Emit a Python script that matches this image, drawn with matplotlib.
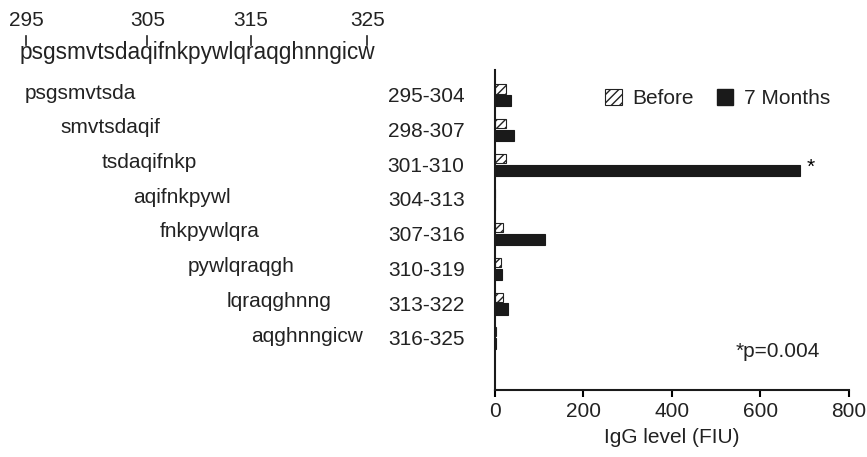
import numpy as np
import matplotlib.pyplot as plt
import matplotlib.transforms as mtransforms
from matplotlib.patches import Patch
from matplotlib.font_manager import FontProperties

plt.rcParams['font.family'] = ['Liberation Sans', 'DejaVu Sans']
plt.rcParams['hatch.linewidth'] = 1.0

# full sequence and its numbering
sequence = 'psgsmvtsdaqifnkpywlqraqghnngicw'
seq_start = 295
seq_marks = [295, 305, 315, 325]

# peptides (top to bottom)
peptides = ['psgsmvtsda', 'smvtsdaqif', 'tsdaqifnkp', 'aqifnkpywl',
            'fnkpywlqra', 'pywlqraqgh', 'lqraqghnng', 'aqghnngicw']
ranges = ['295-304', '298-307', '301-310', '304-313',
          '307-316', '310-319', '313-322', '316-325']
before = [25, 24, 24, 0, 19, 14, 19, 2]
months7 = [35, 42, 689, 0, 112, 15, 30, 2]

FS = 15

fig = plt.figure(figsize=(8.67, 4.57), dpi=100)
ax = fig.add_axes([0.571, 0.147, 0.408, 0.70])

y = np.arange(len(ranges))
ax.barh(y - 0.17, before, height=0.26, color='white', edgecolor='#222222',
        hatch='////', linewidth=0.8, label='Before')
ax.barh(y + 0.17, months7, height=0.32, color='#1a1a1a', edgecolor='#1a1a1a',
        linewidth=0.8, label='7 Months')

ax.set_xlim(0, 800)
ax.set_ylim(len(ranges) - 1 + 1.5, -0.72)
ax.set_xticks([0, 200, 400, 600, 800])
ax.set_yticks(y)
ax.set_yticklabels(ranges, fontsize=FS, color='#222222')
ax.tick_params(axis='y', length=0, pad=22)
ax.tick_params(axis='x', labelsize=FS, length=5, width=1.5, direction='out',
               labelcolor='#222222')
for s in ['top', 'right']:
    ax.spines[s].set_visible(False)
for s in ['left', 'bottom']:
    ax.spines[s].set_linewidth(1.5)
    ax.spines[s].set_color('#1a1a1a')
ax.set_xlabel('IgG level (FIU)', fontsize=FS, labelpad=5, color='#222222')

ax.text(months7[2] + 25, 2 + 0.1, '*', fontsize=FS, ha='center', va='center')
ax.text(0.92, 0.12, '*p=0.004', transform=ax.transAxes, fontsize=FS,
        ha='right', va='center', color='#222222')

handles = [Patch(facecolor='white', edgecolor='#222222', hatch='////', linewidth=0.8),
           Patch(facecolor='#1a1a1a', edgecolor='#1a1a1a')]
ax.legend(handles, ['Before', '7 Months'], loc='upper right', ncol=2, frameon=False,
          fontsize=FS, handlelength=0.8, handleheight=0.8, handletextpad=0.5,
          columnspacing=1.1, bbox_to_anchor=(1.0, 1.0), labelcolor='#222222')

# peptide sequences on the left, staggered
pep_x = [25, 60, 102, 133, 160, 188, 227, 251]
blend = mtransforms.blended_transform_factory(fig.transFigure, ax.transData)
for i, (p, px) in enumerate(zip(peptides, pep_x)):
    ax.text(px / 867, i - 0.05, p, transform=blend, fontsize=FS, ha='left',
            va='center', color='#222222')

# full sequence with numbered residues on top
SEQ_FS = 16.3
seq_x = 20 / 867
seq_y = 1 - 53 / 457
fig.text(seq_x, seq_y, sequence, fontsize=SEQ_FS, ha='left', va='center',
         color='#222222')
fig.canvas.draw()
renderer = fig.canvas.get_renderer()
prop = FontProperties(family=['Liberation Sans', 'DejaVu Sans'], size=SEQ_FS)


def prefix_width(s):
    if not s:
        return 0.0
    w, h, d = renderer.get_text_width_height_descent(s, prop, ismath=False)
    return w


x0_px = seq_x * fig.bbox.width
for m in seq_marks:
    i = m - seq_start
    cx = x0_px + (prefix_width(sequence[:i]) + prefix_width(sequence[:i + 1])) / 2
    fx = cx / fig.bbox.width
    fig.add_artist(plt.Line2D([fx, fx], [1 - 36 / 457, 1 - 45 / 457],
                              color='#222222', linewidth=1.2))
    fig.text(fx, 1 - 21 / 457, str(m), fontsize=FS, ha='center', va='center',
             color='#222222')

fig.savefig('out.png', dpi=100)
